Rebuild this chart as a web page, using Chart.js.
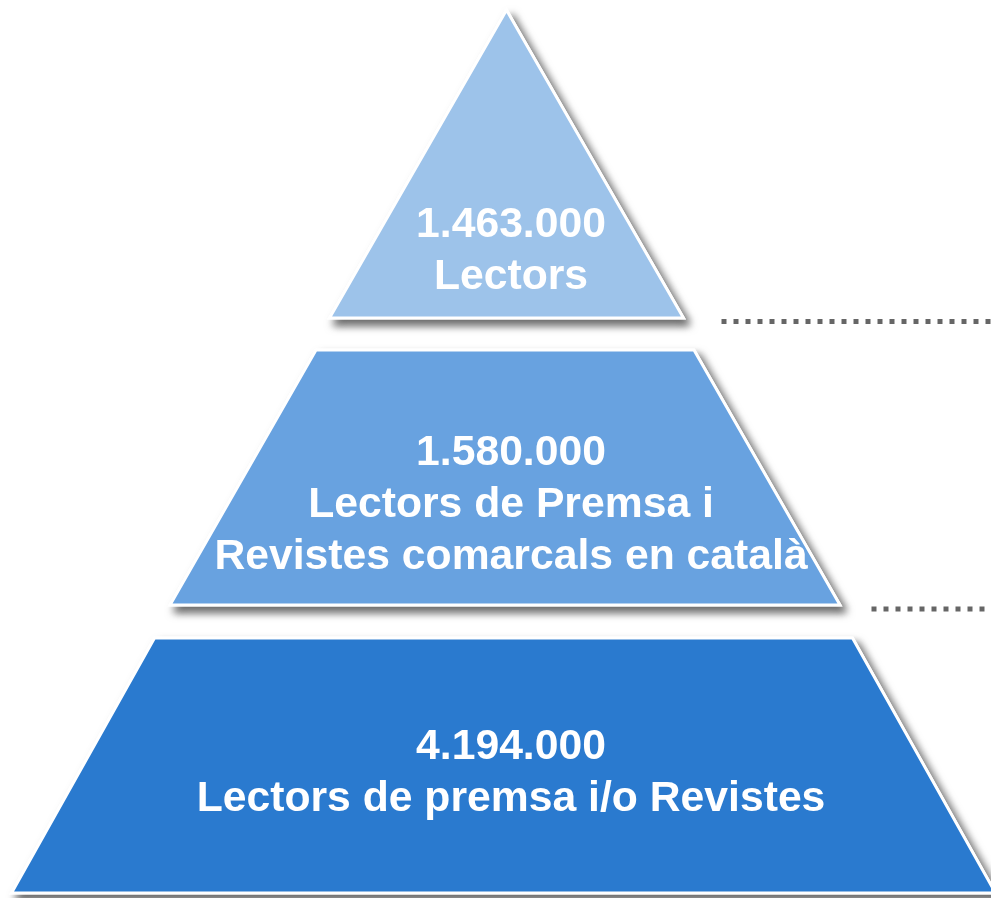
<!DOCTYPE html>
<html lang="ca">
<head>
<meta charset="utf-8">
<title>Lectors</title>
<script src="https://cdn.jsdelivr.net/npm/chart.js@4.4.1/dist/chart.umd.min.js"></script>
<style>
    html, body { margin: 0; padding: 0; background: #fff; }
    #wrap { width: 991px; height: 898px; }
</style>
</head>
<body>
<div id="wrap"><canvas id="pyramid" width="991" height="898"></canvas></div>
<script>
// Nivells de la piràmide, de dalt a baix
const levelValues = [1463000, 1580000, 4194000];
const levelLabels = [
    ['Lectors'],
    ['Lectors de Premsa i', 'Revistes comarcals en català'],
    ['Lectors de premsa i/o Revistes']
];

// Colors i geometria (unitats dels eixos: 0..991 x 0..898)
const levelColors = ['#9DC3EA', '#68A2E0', '#2A7ACF'];
const bands = [
    { top: 10,  bottom: 318, cx: 506.5, halfTop: 0,   halfBottom: 177, textY: 251 },
    { top: 350, bottom: 605, cx: 505,   halfTop: 189, halfBottom: 335, textY: 505 },
    { top: 638, bottom: 893, cx: 503.5, halfTop: 349, halfBottom: 492, textY: 773.5 }
];
const connectors = [
    { y: 321.5, from: 721.5 },
    { y: 609,   from: 871.5 }
];
const textX = 511;
const lineHeight = 52;

function formatNumber(v) {
    return String(v).replace(/\B(?=(\d{3})+(?!\d))/g, '.');
}

function bandPoints(b) {
    return [
        { x: b.cx - b.halfTop, y: b.top },
        { x: b.cx + b.halfTop, y: b.top },
        { x: b.cx + b.halfBottom, y: b.bottom },
        { x: b.cx - b.halfBottom, y: b.bottom },
        { x: b.cx - b.halfTop, y: b.top }
    ];
}

const datasets = bands.map((b, i) => ({
    label: levelLabels[i].join(' '),
    data: bandPoints(b),
    isLevel: true,
    showLine: true,
    fill: 'shape',
    backgroundColor: levelColors[i],
    borderColor: '#ffffff',
    borderWidth: 3,
    pointRadius: 0,
    tension: 0
}));

connectors.forEach(c => {
    datasets.push({
        label: 'connector',
        data: [{ x: c.from, y: c.y }, { x: 991, y: c.y }],
        showLine: true,
        fill: false,
        borderColor: '#666666',
        borderWidth: 5,
        borderDash: [5, 7],
        pointRadius: 0
    });
});

// Ombra darrere de cada nivell
const shadowPlugin = {
    id: 'levelShadow',
    beforeDatasetsDraw(chart) {
        const ctx = chart.ctx;
        chart.data.datasets.forEach((ds, i) => {
            if (!ds.isLevel) return;
            const pts = chart.getDatasetMeta(i).data;
            ctx.save();
            ctx.shadowColor = 'rgba(0, 0, 0, 0.6)';
            ctx.shadowBlur = 9;
            ctx.shadowOffsetX = 5;
            ctx.shadowOffsetY = 6;
            ctx.beginPath();
            pts.forEach((p, k) => k === 0 ? ctx.moveTo(p.x, p.y) : ctx.lineTo(p.x, p.y));
            ctx.closePath();
            ctx.fillStyle = '#ffffff';
            ctx.strokeStyle = '#ffffff';
            ctx.lineWidth = ds.borderWidth;
            ctx.fill();
            ctx.stroke();
            ctx.restore();
        });
    }
};

// Textos blancs dins de cada nivell
const labelPlugin = {
    id: 'levelLabels',
    afterDatasetsDraw(chart) {
        const ctx = chart.ctx;
        const xs = chart.scales.x;
        const ys = chart.scales.y;
        ctx.save();
        ctx.fillStyle = '#ffffff';
        ctx.font = 'bold 42.7px "Liberation Sans", Arial, sans-serif';
        ctx.textAlign = 'center';
        ctx.textBaseline = 'middle';
        bands.forEach((b, i) => {
            const lines = [formatNumber(levelValues[i])].concat(levelLabels[i]);
            const start = b.textY - (lines.length - 1) * lineHeight / 2;
            lines.forEach((t, k) => {
                ctx.fillText(t, xs.getPixelForValue(textX), ys.getPixelForValue(start + k * lineHeight));
            });
        });
        ctx.restore();
    }
};

new Chart(document.getElementById('pyramid'), {
    type: 'scatter',
    data: { datasets },
    options: {
        responsive: false,
        animation: false,
        layout: { padding: 0 },
        plugins: {
            legend: { display: false },
            tooltip: { enabled: false }
        },
        scales: {
            x: { type: 'linear', min: 0, max: 991, display: false },
            y: { type: 'linear', min: 0, max: 898, reverse: true, display: false }
        }
    },
    plugins: [shadowPlugin, labelPlugin]
});
</script>
</body>
</html>
